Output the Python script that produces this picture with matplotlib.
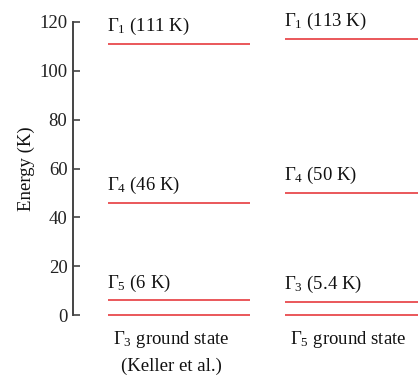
import matplotlib
matplotlib.use("Agg")
import matplotlib.pyplot as plt

# ==============================
# Data
# ==============================
columns = [0, 1]
left_energies = [111, 46, 6, 0]
left_labels = [r"$\Gamma_{1}$ (111 K)", r"$\Gamma_{4}$ (46 K)", r"$\Gamma_{5}$ (6 K)", None]
right_energies = [113, 50, 5.4, 0]
right_labels = [r"$\Gamma_{1}$ (113 K)", r"$\Gamma_{4}$ (50 K)", r"$\Gamma_{3}$ (5.4 K)", None]
ground_labels = ["$\\Gamma_{3}$ ground state\n(Keller et al.)", "$\\Gamma_{5}$ ground state"]
yticks = [0, 20, 40, 60, 80, 100, 120]

# ==============================
# Style
# ==============================
plt.rcParams['font.family'] = ['Liberation Serif', 'DejaVu Serif']
plt.rcParams['mathtext.fontset'] = 'custom'
plt.rcParams['mathtext.rm'] = 'Liberation Serif'
plt.rcParams['mathtext.it'] = 'Liberation Serif:italic'
plt.rcParams['font.size'] = 13.5

line_color = '#e42a2e'
half_width = 0.40

fig = plt.figure(figsize=(4.18, 3.76), dpi=100)
ax = fig.add_axes([73/418, 1 - 315/376, 1 - 73/418, (315 - 22)/376])

# energy levels + labels
for col, energies, labels in zip(columns, [left_energies, right_energies], [left_labels, right_labels]):
    for e, lab in zip(energies, labels):
        ax.plot([col - half_width, col + half_width], [e, e], color=line_color, lw=1.1,
                solid_capstyle='butt', clip_on=False)
        if lab is not None:
            ax.annotate(lab, xy=(col - half_width, e), xytext=(-1, 12.5), textcoords='offset points',
                        va='center', ha='left', color='#111111')

# ground state captions
for col, lab in zip(columns, ground_labels):
    ax.annotate(lab, xy=(col - 0.045, 0), xytext=(0, -10), textcoords='offset points',
                va='top', ha='center', multialignment='center', color='#111111', linespacing=1.6)

ax.set_xlim(-0.6, 1.35)
ax.set_ylim(0, 120)
ax.set_yticks(yticks)
ax.set_xticks([])
for side in ['top', 'right', 'bottom']:
    ax.spines[side].set_visible(False)
ax.spines['left'].set_color('#444444')
ax.spines['left'].set_linewidth(1.4)
ax.tick_params(axis='y', direction='in', length=5, width=1.2, color='#444444', pad=4, labelcolor='#222222')
ax.set_ylabel('Energy (K)', labelpad=3, color='#111111')
ax.patch.set_alpha(0)

fig.savefig('out.png', dpi=100)
